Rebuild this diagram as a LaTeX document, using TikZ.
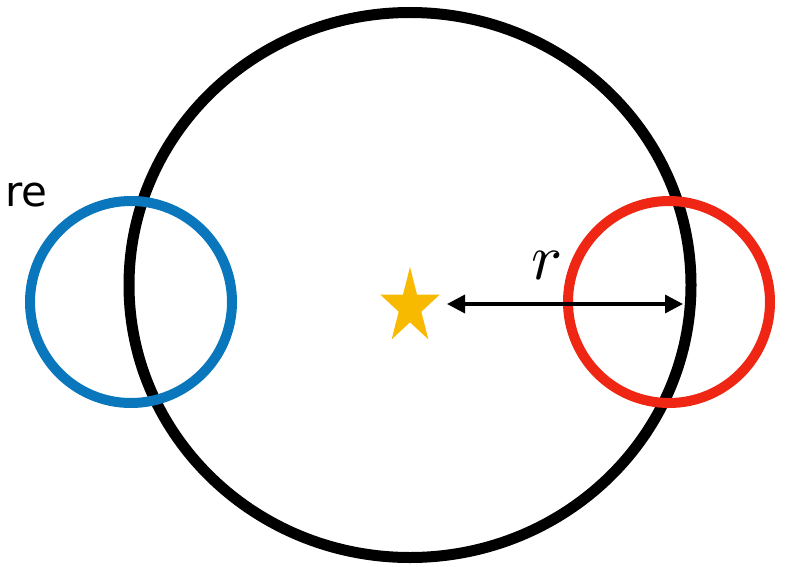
\documentclass[tikz,border=0pt]{standalone}
\usepackage{fontspec}
\usepackage{tikz}
\usetikzlibrary{shapes.geometric, arrows.meta}
\newfontfamily\labelfont{DejaVu Sans}
\definecolor{cBlue}{HTML}{0A77BC}
\definecolor{cRed}{HTML}{EE2613}
\definecolor{cGold}{HTML}{F7BA00}
\tikzset{
  ring/.style={circle, draw=#1, line width=10pt, minimum size=202pt, inner sep=0pt},
  arrow/.style={{Triangle[length=18pt,width=18pt]}-{Triangle[length=18pt,width=18pt]}, line width=3.5pt},
}

\begin{document}
\begin{tikzpicture}[x=1pt, y=-1pt]
  \useasboundingbox (0,0) rectangle (787,567);

  \node[ellipse, draw, line width=11pt, minimum width=562pt, minimum height=545pt,
        inner sep=0pt] (big) at (410,285) {};

  \node[ring=cBlue] (left) at (131,302) {};
  \node[ring=cRed] (right) at (669,302) {};

  \node[star, star points=5, star point ratio=2.618, fill=cGold, minimum size=80pt,
        inner sep=0pt, xscale=0.78] (sun) at (410,307) {};

  \coordinate (tipA) at (447,304);
  \coordinate (tipB) at (683,304);
  \draw[arrow] (tipA) -- (tipB);
  \node[scale=6.5] (rlbl) at (547,266) {$r$};

  \node[anchor=base west, inner sep=0pt] (txt) at (5,206)
    {\labelfont\fontsize{42}{42}\selectfont re};
\end{tikzpicture}
\end{document}
